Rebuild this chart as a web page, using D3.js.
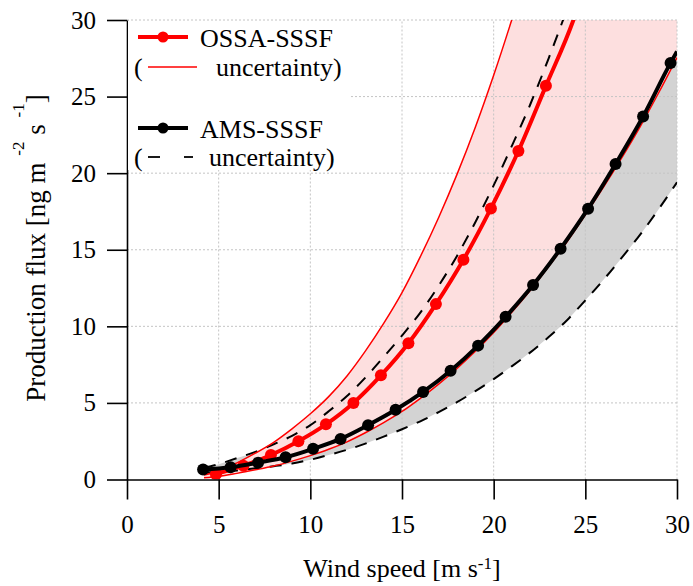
<!DOCTYPE html>
<html>
<head>
<meta charset="utf-8">
<script src="https://cdn.jsdelivr.net/npm/d3@7"></script>
<style>
  html, body { margin: 0; padding: 0; background: #fff; }
  svg { display: block; font-family: "Liberation Serif", "Times New Roman", serif; }
</style>
</head>
<body>
<svg id="chart" width="693" height="586"></svg>
<script>
// ---- Sea-spray production flux vs wind speed ----

// Tick values
const xTicks = [0, 5, 10, 15, 20, 25, 30];
const yTicks = [0, 5, 10, 15, 20, 25, 30];

// OSSA-SSSF samples (markers) and the end of its fitted curve
const ossaU = [4.85, 6.35, 7.85, 9.35, 10.85, 12.35, 13.85, 15.35, 16.85, 18.35, 19.85, 21.35, 22.85];
const ossaF = [0.35, 0.9, 1.6, 2.5, 3.6, 5.0, 6.8, 8.9, 11.45, 14.35, 17.7, 21.45, 25.7];
const ossaTailU = [24.35, 25.0];
const ossaTailF = [30.0, 32.3];

// AMS-SSSF samples (markers) and the end of its fitted curve
const amsU = [4.15, 5.65, 7.15, 8.65, 10.15, 11.65, 13.15, 14.65, 16.15, 17.65, 19.15, 20.65, 22.15, 23.65, 25.15, 26.65, 28.15, 29.65];
const amsF = [0.65, 0.8, 1.1, 1.45, 2.0, 2.65, 3.55, 4.55, 5.72, 7.1, 8.74, 10.62, 12.7, 15.07, 17.68, 20.6, 23.7, 27.2];
const amsTailU = [30.0];
const amsTailF = [27.95];

// OSSA-SSSF uncertainty envelope
const ossaUpperU = [4.2, 5, 6, 7, 8, 9, 10, 11, 12, 13, 14, 15, 16, 17, 18, 19, 20, 21, 22];
const ossaUpperF = [0.3, 0.56, 1.09, 1.72, 2.43, 3.31, 4.29, 5.41, 6.76, 8.38, 10.19, 12.2, 14.55, 17.11, 19.92, 23.0, 26.39, 30.06, 33.96];
const ossaLowerU = [4.2, 5, 6, 7, 8, 9, 10, 11, 12, 13, 14, 15, 16, 17, 18, 19, 20, 21, 22, 23, 24, 25, 26, 27, 28, 29, 30];
const ossaLowerF = [0.12, 0.2, 0.4, 0.63, 0.88, 1.2, 1.56, 1.97, 2.46, 3.05, 3.71, 4.44, 5.3, 6.23, 7.25, 8.37, 9.6, 10.94, 12.36, 13.91, 15.52, 17.28, 19.1, 21.03, 23.06, 25.25, 27.55];

// AMS-SSSF uncertainty envelope
const amsUpperU = [4.2, 5, 6, 7, 8, 9, 10, 11, 12, 13, 14, 15, 16, 17, 18, 19, 20, 21, 22, 23, 24];
const amsUpperF = [0.75, 1.0, 1.4, 1.8, 2.3, 2.85, 3.55, 4.45, 5.45, 6.65, 8.0, 9.4, 10.9, 12.65, 14.6, 16.8, 19.2, 21.8, 24.5, 27.5, 30.7];
const amsLowerU = [4.2, 5, 6, 7, 8, 9, 10, 11, 12, 13, 14, 15, 16, 17, 18, 19, 20, 21, 22, 23, 24, 25, 26, 27, 28, 29, 30];
const amsLowerF = [0.45, 0.5, 0.59, 0.73, 0.87, 1.04, 1.29, 1.6, 1.94, 2.34, 2.8, 3.28, 3.8, 4.4, 5.05, 5.77, 6.55, 7.4, 8.3, 9.3, 10.4, 11.7, 13.05, 14.5, 16.0, 17.65, 19.4];

// ---- layout ----
const svg = d3.select("#chart");
const x = d3.scaleLinear().domain([0, 30]).range([127, 677]);
const y = d3.scaleLinear().domain([0, 30]).range([479.5, 20]);

const zip = (us, fs) => us.map((u, i) => ({ u, f: fs[i] }));

svg.append("defs").append("clipPath").attr("id", "plotClip")
  .append("rect")
  .attr("x", x(0)).attr("y", y(30))
  .attr("width", x(30) - x(0)).attr("height", y(0) - y(30));

const curve = d3.curveMonotoneX;
const lineGen = d3.line().curve(curve).x(d => x(d.u)).y(d => y(d.f));

// Shaded envelope: upper edge, out over the top-right corner, back along the lower edge
function envelope(upU, upF, loU, loF) {
  const upper = lineGen(zip(upU, upF));
  const lowerRev = lineGen(zip(loU, loF).slice().reverse());
  return upper +
    `L${x(30)},${y(40)}L${x(30)},${y(loF[loF.length - 1])}` +
    lowerRev.replace(/^M/, "L") + "Z";
}

const fills = svg.append("g").attr("clip-path", "url(#plotClip)");
fills.append("path").attr("d", envelope(amsUpperU, amsUpperF, amsLowerU, amsLowerF))
  .attr("fill", "#d3d3d3");
fills.append("path").attr("d", envelope(ossaUpperU, ossaUpperF, ossaLowerU, ossaLowerF))
  .attr("fill", "#fddfdf");

// grid
const grid = svg.append("g");
xTicks.filter(t => t > 0).forEach(t => {
  grid.append("line")
    .attr("x1", x(t)).attr("x2", x(t)).attr("y1", y(0)).attr("y2", y(30))
    .attr("stroke", "#c4c4c4").attr("stroke-width", 1).attr("stroke-dasharray", "2,2");
});
yTicks.filter(t => t > 0).forEach(t => {
  grid.append("line")
    .attr("x1", x(0)).attr("x2", x(30)).attr("y1", y(t)).attr("y2", y(t))
    .attr("stroke", "#c4c4c4").attr("stroke-width", 1).attr("stroke-dasharray", "2,2");
});

// lines
const lines = svg.append("g").attr("clip-path", "url(#plotClip)");

// AMS uncertainty (dashed)
[[amsUpperU, amsUpperF], [amsLowerU, amsLowerF]].forEach(([us, fs]) => {
  lines.append("path").attr("d", lineGen(zip(us, fs)))
    .attr("fill", "none").attr("stroke", "#000").attr("stroke-width", 2)
    .attr("stroke-dasharray", "12,10");
});

// OSSA uncertainty (thin red)
[[ossaUpperU, ossaUpperF], [ossaLowerU, ossaLowerF]].forEach(([us, fs]) => {
  lines.append("path").attr("d", lineGen(zip(us, fs)))
    .attr("fill", "none").attr("stroke", "#ff0000").attr("stroke-width", 1.5);
});

// OSSA curve + markers
lines.append("path")
  .attr("d", lineGen(zip(ossaU.concat(ossaTailU), ossaF.concat(ossaTailF))))
  .attr("fill", "none").attr("stroke", "#ff0000").attr("stroke-width", 4);
lines.selectAll("circle.ossa").data(zip(ossaU, ossaF)).join("circle")
  .attr("class", "ossa")
  .attr("cx", d => x(d.u)).attr("cy", d => y(d.f)).attr("r", 6)
  .attr("fill", "#ff0000");

// AMS curve + markers
lines.append("path")
  .attr("d", lineGen(zip(amsU.concat(amsTailU), amsF.concat(amsTailF))))
  .attr("fill", "none").attr("stroke", "#000").attr("stroke-width", 4);
lines.selectAll("circle.ams").data(zip(amsU, amsF)).join("circle")
  .attr("class", "ams")
  .attr("cx", d => x(d.u)).attr("cy", d => y(d.f)).attr("r", 6)
  .attr("fill", "#000");

// axes
const xAxis = svg.append("g").attr("transform", `translate(0,${y(0)})`)
  .call(d3.axisBottom(x).tickValues(xTicks).tickFormat(d3.format("d")).tickSize(20).tickPadding(16).tickSizeOuter(0));
const yAxis = svg.append("g").attr("transform", `translate(${x(0)},0)`)
  .call(d3.axisLeft(y).tickValues(yTicks).tickFormat(d3.format("d")).tickSize(20).tickPadding(11).tickSizeOuter(0));
[xAxis, yAxis].forEach(a => {
  a.select(".domain").attr("stroke", "#000").attr("stroke-width", 1.6);
  a.selectAll(".tick line").attr("stroke", "#000").attr("stroke-width", 1.6);
  a.selectAll(".tick text").attr("fill", "#000")
    .style("font-family", '"Liberation Serif", "Times New Roman", serif')
    .style("font-size", "25px");
});

// axis titles
const xt = svg.append("text").attr("x", 402).attr("y", 577)
  .attr("text-anchor", "middle").style("font-size", "26px").attr("fill", "#000");
xt.append("tspan").text("Wind speed [m s");
xt.append("tspan").attr("dy", -8).style("font-size", "17px").text("-1");
xt.append("tspan").attr("dy", 8).text("]");

const yt = svg.append("text")
  .attr("transform", "translate(45,248) rotate(-90)")
  .attr("text-anchor", "middle").style("font-size", "27px").attr("fill", "#000");
yt.append("tspan").text("Production flux [ng m ");
yt.append("tspan").attr("dy", -21).style("font-size", "17px").text("-2");
yt.append("tspan").attr("dy", 21).text(" s ");
yt.append("tspan").attr("dy", -21).style("font-size", "17px").text("-1");
yt.append("tspan").attr("dy", 21).text("]");

// legend
const lg = svg.append("g");
lg.append("rect").attr("x", 128).attr("y", 21).attr("width", 222).attr("height", 149).attr("fill", "#fff");
const lfont = "26px";
lg.append("line").attr("x1", 138).attr("x2", 188).attr("y1", 37).attr("y2", 37)
  .attr("stroke", "#ff0000").attr("stroke-width", 4);
lg.append("circle").attr("cx", 163).attr("cy", 37).attr("r", 5.5).attr("fill", "#ff0000");
lg.append("text").attr("x", 200).attr("y", 47).style("font-size", lfont).text("OSSA-SSSF");
lg.append("text").attr("x", 134).attr("y", 76).style("font-size", lfont).text("(");
lg.append("line").attr("x1", 148).attr("x2", 197).attr("y1", 67).attr("y2", 67)
  .attr("stroke", "#ff0000").attr("stroke-width", 1.5);
lg.append("text").attr("x", 216).attr("y", 76).style("font-size", lfont).text("uncertainty)");

lg.append("line").attr("x1", 138).attr("x2", 188).attr("y1", 128).attr("y2", 128)
  .attr("stroke", "#000").attr("stroke-width", 4);
lg.append("circle").attr("cx", 163).attr("cy", 128).attr("r", 5.5).attr("fill", "#000");
lg.append("text").attr("x", 200).attr("y", 138).style("font-size", lfont).text("AMS-SSSF");
lg.append("text").attr("x", 134).attr("y", 166).style("font-size", lfont).text("(");
lg.append("line").attr("x1", 148).attr("x2", 160).attr("y1", 157).attr("y2", 157)
  .attr("stroke", "#000").attr("stroke-width", 1.8);
lg.append("line").attr("x1", 184).attr("x2", 193).attr("y1", 157).attr("y2", 157)
  .attr("stroke", "#000").attr("stroke-width", 1.8);
lg.append("text").attr("x", 209).attr("y", 166).style("font-size", lfont).text("uncertainty)");
</script>
</body>
</html>
